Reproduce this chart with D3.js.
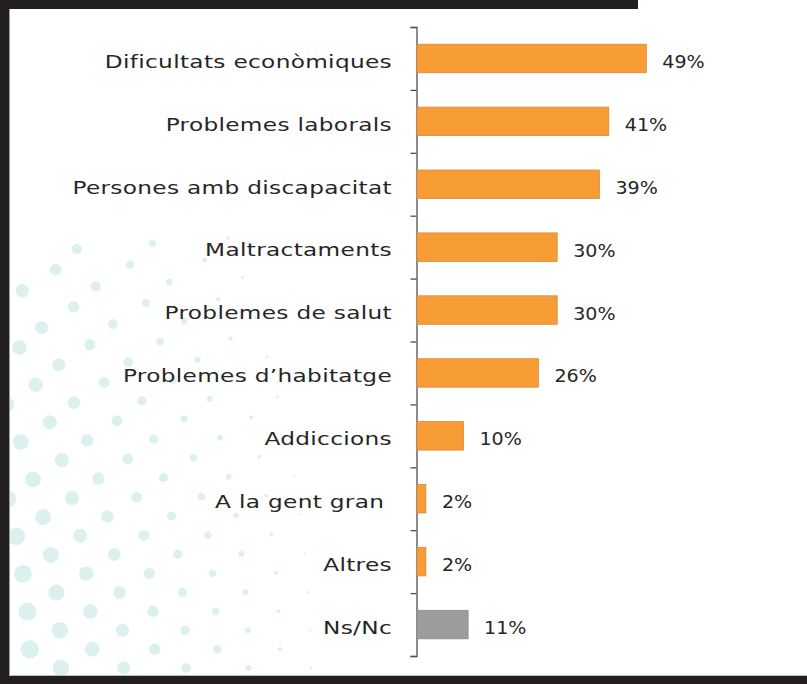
<!DOCTYPE html>
<html>
<head>
<meta charset="utf-8">
<script src="https://cdn.jsdelivr.net/npm/d3@7/dist/d3.min.js"></script>
<style>
  html, body { margin: 0; padding: 0; background: #fff; }
  svg { display: block; }
  text { font-family: "DejaVu Sans", sans-serif; fill: #262626; }
</style>
</head>
<body>
<script>
// Survey answers: share of respondents per kind of situation
const categories = [
  "Dificultats econòmiques",
  "Problemes laborals",
  "Persones amb discapacitat",
  "Maltractaments",
  "Problemes de salut",
  "Problemes d’habitatge",
  "Addiccions",
  "A la gent gran ",
  "Altres",
  "Ns/Nc"
];
const values = [49, 41, 39, 30, 30, 26, 10, 2, 2, 11];
const valueLabels = values.map(v => v + "%");
const noAnswer = "Ns/Nc";

const W = 807, H = 684;
const ORANGE = "#f89c35", ORANGE_EDGE = "#d98a3c";
const GREY = "#9a9c9d", GREY_EDGE = "#8a8c8d";
const FRAME = "#231f20";

const svg = d3.select("body").append("svg")
  .attr("width", W).attr("height", H);

svg.append("rect").attr("width", W).attr("height", H).attr("fill", "#fff");

// Decorative dot pattern in the lower-left corner
const dots = svg.append("g").attr("fill", "#ddf0f0");
for (let j = 0; j <= 22; j++) {
  const u = j / 21;
  const yBase = 668 - 18.8 * j;
  const tilt = 0.065 * u * u;
  const step = 62.5 + 12 * u * u;
  const off = (j % 2 === 0 ? 61 : 30) - 0.28 * j * j;
  let x = off - Math.floor(off / step) * step - step;
  for (; x < 345; x += step) {
    const y = yBase - tilt * x;
    const t = Math.max(-0.3, Math.min(1, (y - 282) / 348));
    const amp = 7.2 + 2.8 * t;
    const reach = 315 + 40 * t;
    const r = amp * (1 - x / reach);
    if (r > 0.6) dots.append("circle").attr("cx", x).attr("cy", y).attr("r", r);
  }
}

// Scales
const y = d3.scaleBand()
  .domain(categories)
  .range([27, 656])
  .paddingInner(0.547)
  .paddingOuter(0.2735);

const x = d3.scaleLinear().domain([0, 50]).range([416.5, 651]);

// Axis with tick marks on the category boundaries
const boundary = d3.scaleLinear().domain([0, categories.length]).range([27, 656]);
const axis = svg.append("g")
  .attr("transform", `translate(${x(0)},0)`)
  .call(d3.axisLeft(boundary)
    .tickValues(d3.range(categories.length + 1))
    .tickFormat("")
    .tickSize(6));
axis.selectAll("path, line").attr("stroke", "#505050").attr("stroke-width", 1.3);

// Bars
svg.append("g").selectAll("rect")
  .data(categories)
  .join("rect")
  .attr("x", x(0) + 0.5)
  .attr("y", d => y(d))
  .attr("width", (d, i) => x(values[i]) - x(0) - 0.5)
  .attr("height", y.bandwidth())
  .attr("fill", d => d === noAnswer ? GREY : ORANGE)
  .attr("stroke", d => d === noAnswer ? GREY_EDGE : ORANGE_EDGE)
  .attr("stroke-width", 0.8);

// Category labels (wide geometric look: horizontally stretched glyphs)
const labelRight = x(0) - 24.5;
svg.append("g").selectAll("g")
  .data(categories)
  .join("g")
  .attr("transform", d => `translate(${labelRight},${y(d) + y.bandwidth() / 2 + 9.3}) scale(1.29,1)`)
  .append("text")
  .attr("text-anchor", "end")
  .style("white-space", "pre")
  .attr("font-size", 18)
  .attr("letter-spacing", 0.25)
  .text(d => d);

// Value labels
svg.append("g").selectAll("g")
  .data(categories)
  .join("g")
  .attr("transform", (d, i) => `translate(${x(values[i]) + 16},${y(d) + y.bandwidth() / 2 + 9.5}) scale(1.06,1)`)
  .append("text")
  .attr("font-size", 18)
  .text((d, i) => valueLabels[i]);

// Frame
svg.append("line").attr("x1", 9.5).attr("x2", 9.5).attr("y1", 9).attr("y2", 676)
  .attr("stroke", "#9a9a9a").attr("stroke-width", 1);
svg.append("line").attr("x1", 9).attr("x2", W).attr("y1", 675.5).attr("y2", 675.5)
  .attr("stroke", "#bcbcbc").attr("stroke-width", 1);
svg.append("rect").attr("x", 0).attr("y", 0).attr("width", 638).attr("height", 9).attr("fill", FRAME);
svg.append("rect").attr("x", 0).attr("y", 0).attr("width", 9).attr("height", H).attr("fill", FRAME);
svg.append("rect").attr("x", 0).attr("y", 676).attr("width", W).attr("height", H - 676).attr("fill", FRAME);
</script>
</body>
</html>
